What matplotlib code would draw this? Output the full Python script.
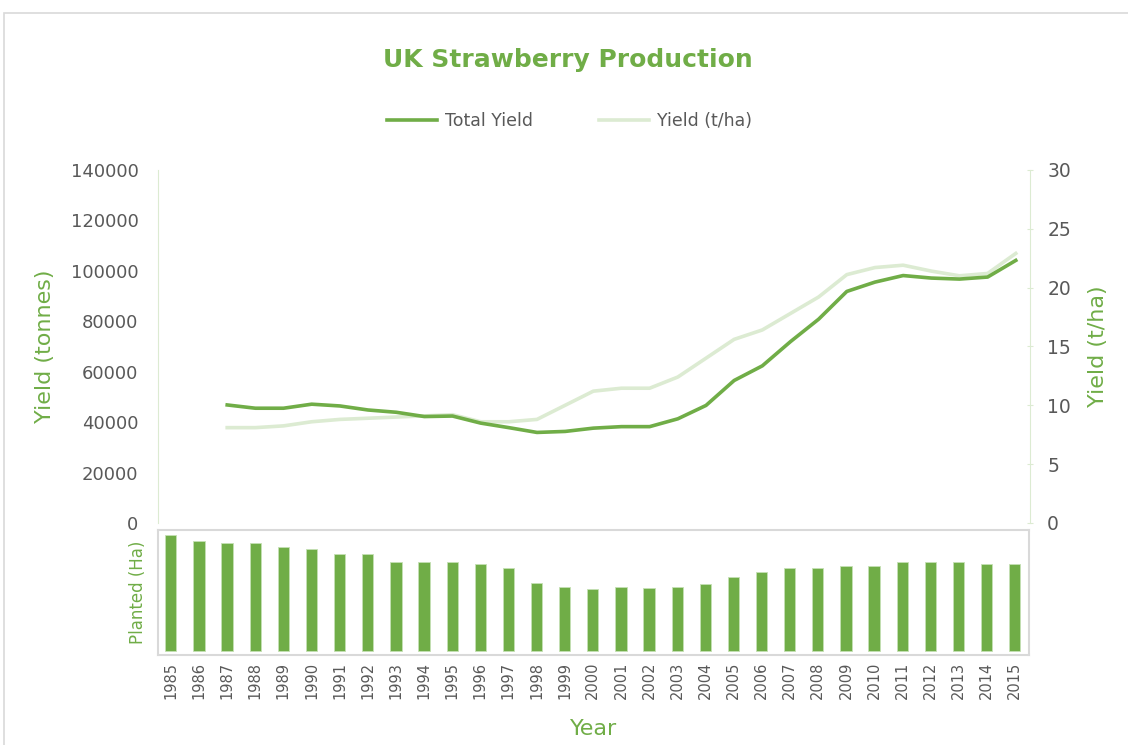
import numpy as np
import matplotlib
matplotlib.use("Agg")
import matplotlib.pyplot as plt
from matplotlib.patches import Rectangle

plt.rcParams['font.family'] = ['DejaVu Sans']

##################################
# Data
years = list(range(1985, 2016))

total_yield = [np.nan, np.nan, 46800, 45500, 45500, 47100, 46400, 44800, 43900, 42200,
               42400, 39600, 37800, 35900, 36300, 37600, 38200, 38200, 41300, 46600,
               56500, 62300, 71900, 80800, 91800, 95500, 98100, 97100, 96700, 97500,
               104100]

yield_tha = [np.nan, np.nan, 8.1, 8.1, 8.25, 8.6, 8.8, 8.9, 9.0, 9.1,
             9.2, 8.6, 8.6, 8.8, 10.0, 11.2, 11.45, 11.45, 12.4, 14.0,
             15.6, 16.4, 17.8, 19.2, 21.1, 21.7, 21.9, 21.4, 21.0, 21.2,
             22.9]

planted = [6070, 5750, 5650, 5650, 5440, 5330, 5070, 5070, 4650, 4650,
           4650, 4550, 4340, 3560, 3350, 3240, 3350, 3290, 3350, 3500,
           3870, 4130, 4340, 4340, 4450, 4450, 4650, 4650, 4650, 4550,
           4550]

##################################
# Styles
green = "#70ad47"
light = "#dcebd2"
grey = "#595959"
frame = "#d9d9d9"

fig = plt.figure(figsize=(11.28, 7.45), dpi=100)

# outer chart border
fig.patches.append(Rectangle((4/1128, -0.1), 1.2, 1 - 13/745 + 0.1,
                             transform=fig.transFigure, fill=False,
                             edgecolor=frame, lw=1.2))

# Top: yield lines
ax = fig.add_axes([0.140, 0.298, 0.773, 0.474])
ax2 = ax.twinx()

l1, = ax.plot(years, total_yield, color=green, lw=2.6, zorder=3)
l2, = ax2.plot(years, yield_tha, color=light, lw=2.6, zorder=2)
ax.set_zorder(ax2.get_zorder() + 1)
ax.patch.set_visible(False)

ax.set_xlim(1984.54, 2015.5)
ax.set_ylim(0, 140000)
ax2.set_ylim(0, 30)
ax.set_yticks(np.arange(0, 140001, 20000))
ax2.set_yticks(np.arange(0, 31, 5))
ax.set_xticks([])

for s in ["top", "bottom", "right"]:
    ax.spines[s].set_visible(False)
for s in ["top", "bottom", "left"]:
    ax2.spines[s].set_visible(False)
ax.spines["left"].set_color(light)
ax2.spines["right"].set_color(light)

ax.tick_params(axis="y", length=0, labelsize=13, labelcolor=grey, pad=14)
ax2.tick_params(axis="y", length=5, color=light, labelsize=13.5, labelcolor=grey,
                pad=10, direction="inout")

ax.set_ylabel("Yield (tonnes)", color=green, fontsize=16, labelpad=11)
ax2.set_ylabel("Yield (t/ha)", color=green, fontsize=16, labelpad=12)

fig.text(0.503, 0.919, "UK Strawberry Production", color=green, fontsize=18,
         fontweight="bold", ha="center", va="center")
fig.legend([l1, l2], ["Total Yield", "Yield (t/ha)"], loc="center",
           bbox_to_anchor=(0.505, 0.838), ncol=2, frameon=False,
           fontsize=12.5, labelcolor=grey, handlelength=2.9, columnspacing=3.8,
           handletextpad=0.45)

# Bottom: planted area bars
axb = fig.add_axes([0.140, 0.121, 0.772, 0.168])
axb.bar(years, planted, width=0.4, color=green, edgecolor="#c5e0b4", linewidth=0.6)
axb.set_xlim(1984.54, 2015.5)
axb.set_ylim(-210, 6330)
axb.set_yticks([])
axb.set_xticks(years)
axb.set_xticklabels([str(y) for y in years], rotation=90, fontsize=10.5, color=grey)
axb.tick_params(axis="x", length=0, pad=5)
for s in axb.spines.values():
    s.set_color(frame)
    s.set_linewidth(1.5)
axb.set_ylabel("Planted (Ha)", color=green, fontsize=12, labelpad=8)
axb.set_xlabel("Year", color=green, fontsize=16, labelpad=14)

fig.savefig("out.png", dpi=100)
